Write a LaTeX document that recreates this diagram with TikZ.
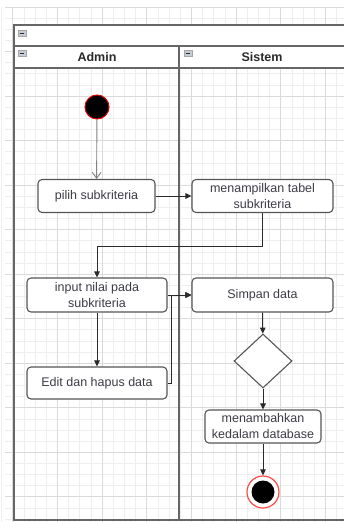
\documentclass[tikz,border=0pt]{standalone}
\usepackage{fontspec}
\setmainfont{Liberation Sans}
\usetikzlibrary{shapes.geometric,arrows.meta}
\definecolor{gridminor}{HTML}{EEEEEE}
\definecolor{gridmajor}{HTML}{DADADA}
\definecolor{poolline}{HTML}{666666}
\definecolor{boxline}{HTML}{555555}
\definecolor{ink}{HTML}{2A2A2A}
\definecolor{textink}{HTML}{3C3C46}
\definecolor{iconfill}{HTML}{C5CCD6}
\tikzset{
  actbox/.style={draw=boxline, line width=1.1pt, rounded corners=4pt, fill=white,
    inner sep=1pt, align=center, text=textink, font=\fontsize{12.5}{16}\selectfont},
  flow/.style={draw=ink, line width=1pt, -{Triangle[length=6pt,width=5.5pt]}},
  startflow/.style={draw=gray, line width=0.9pt, -{Straight Barb[length=6pt,width=9pt]}},
  lanehead/.style={text=ink, font=\bfseries\fontsize{12.5}{15}\selectfont},
  foldicon/.style={draw=gray!70, fill=iconfill, line width=0.5pt},
}
\newcommand{\foldmark}[2]{%
  \draw[foldicon] (#1,#2) rectangle ++(8,6);
  \draw[ink, line width=1pt] (#1+1.8,#2+3) -- ++(4.4,0);}
\begin{document}
\begin{tikzpicture}[x=1pt,y=-1pt]
  \clip (0,0) rectangle (344,522);
  \fill[white] (0,0) rectangle (344,522);
  % background grid
  \foreach \i in {0,...,31} {
    \draw[gridminor, line width=0.6pt] ({1.5+11.17*\i},7) -- ({1.5+11.17*\i},522);
  }
  \foreach \j in {0,...,46} {
    \draw[gridminor, line width=0.6pt] (5,{7+11.13*\j}) -- (344,{7+11.13*\j});
  }
  \foreach \i in {0,...,8} {
    \draw[gridmajor, line width=0.8pt] ({12.7+44.68*\i},7) -- ({12.7+44.68*\i},522);
  }
  \foreach \j in {0,...,11} {
    \draw[gridmajor, line width=0.8pt] (5,{7+44.5*\j}) -- (344,{7+44.5*\j});
  }
  % pool and lanes
  \fill[white] (14,25) rectangle (360,68);
  \draw[poolline, line width=1.8pt] (360,25) -- (14,25) -- (14,520) -- (360,520);
  \draw[poolline, line width=1.8pt] (14,46) -- (360,46);
  \draw[poolline, line width=1.8pt] (14,68) -- (360,68);
  \draw[poolline, line width=2.8pt] (179,46) -- (179,520);
  \foldmark{18}{30}
  \foldmark{18}{50}
  \foldmark{184}{50}
  \node[lanehead] (adminlane) at (97,57) {Admin};
  \node[lanehead] (sistemlane) at (262,57) {Sistem};
  % activity nodes
  \node[circle, fill=black, draw=red!85!black, line width=1pt, minimum size=24pt, inner sep=0] (start) at (97,107) {};
  \node[actbox, minimum width=117pt, minimum height=33pt] (pilih) at (96.5,196) {pilih subkriteria};
  \node[actbox, minimum width=141pt, minimum height=33pt] (tampil) at (262.5,196) {menampilkan tabel\\subkriteria};
  \node[actbox, minimum width=140pt, minimum height=34pt] (input) at (97,295) {input nilai pada\\subkriteria};
  \node[actbox, minimum width=141pt, minimum height=34pt] (simpan) at (262.5,295) {Simpan data};
  \node[actbox, minimum width=140pt, minimum height=32pt] (edit) at (97,383) {Edit dan hapus data};
  \node[diamond, draw=boxline, line width=1.1pt, fill=white, minimum width=58pt, minimum height=54pt, inner sep=0] (cek) at (263,361) {};
  \node[actbox, minimum width=116pt, minimum height=33pt] (tambah) at (263,426.5) {menambahkan\\kedalam database};
  \node[circle, draw=red!70, fill=white, line width=1.2pt, minimum size=32pt, inner sep=0] (end) at (263,492) {};
  \fill[black] (end.center) circle (11.5);
  % connectors
  \coordinate (turn) at (0,246);
  \draw[startflow] (start) -- (pilih);
  \draw[flow] (pilih) -- (tampil);
  \draw[flow] (tampil.south) -- (tampil.south |- turn) -| (input.north);
  \draw[flow] (input) -- (edit);
  \draw[flow] (input.east) -- (simpan.west);
  \draw[flow] (edit.east) -- ++(4,0) |- (simpan.west);
  \draw[flow] (simpan) -- (cek);
  \draw[flow] (cek) -- (tambah);
  \draw[flow] (tambah) -- (end);
\end{tikzpicture}
\end{document}
